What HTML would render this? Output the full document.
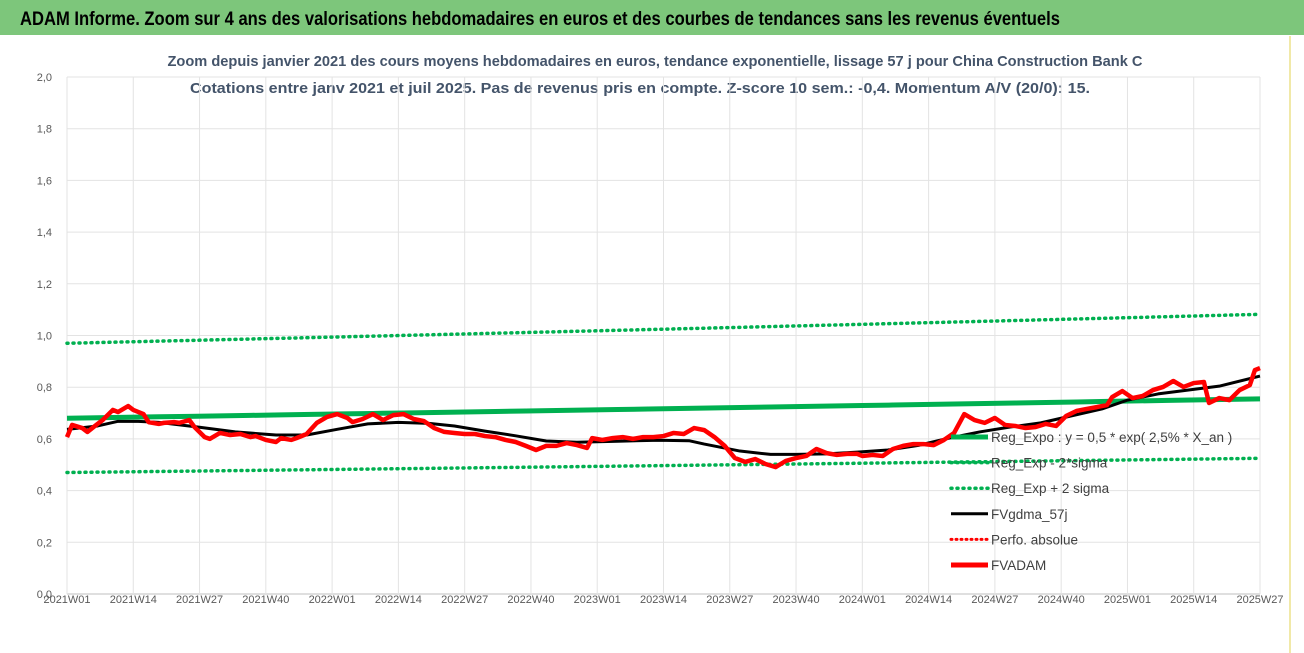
<!DOCTYPE html>
<html><head><meta charset="utf-8"><style>
body{margin:0;background:#fff;}
svg{display:block;font-family:"Liberation Sans",sans-serif;}
</style></head><body>
<svg width="1304" height="653" viewBox="0 0 1304 653">
<rect x="0" y="0" width="1304" height="653" fill="#fff"/>
<rect x="0" y="0" width="1304" height="35" fill="#7dc67b"/>
<text x="20" y="25" font-size="19" font-weight="bold" fill="#000" textLength="1040" lengthAdjust="spacingAndGlyphs">ADAM Informe. Zoom sur 4 ans des valorisations hebdomadaires en euros et des courbes de tendances sans les revenus éventuels</text>
<line x1="1290" y1="36" x2="1290" y2="653" stroke="#f1e9a8" stroke-width="2"/>
<text x="655" y="66" font-size="15" font-weight="bold" fill="#44546a" text-anchor="middle" textLength="975" lengthAdjust="spacingAndGlyphs">Zoom depuis janvier 2021 des cours moyens hebdomadaires en euros, tendance exponentielle, lissage 57 j pour China Construction Bank C</text>
<text x="640" y="93" font-size="15" font-weight="bold" fill="#44546a" text-anchor="middle" textLength="900" lengthAdjust="spacingAndGlyphs">Cotations entre janv 2021 et juil 2025. Pas de revenus pris en compte. Z-score 10 sem.: -0,4. Momentum A/V (20/0): 15.</text>
<g id="grid"></g>
<g id="series"></g>
<g id="legend"></g>
</svg>
<script>
const yTicks=[0,0.2,0.4,0.6,0.8,1.0,1.2,1.4,1.6,1.8,2.0];
const xTickLabels=["2021W01","2021W14","2021W27","2021W40","2022W01","2022W14","2022W27","2022W40","2023W01","2023W14","2023W27","2023W40","2024W01","2024W14","2024W27","2024W40","2025W01","2025W14","2025W27"];
const regStart=0.68, regEnd=0.755;
const lowStart=0.47, lowEnd=0.525;
const highStart=0.97, highEnd=1.082;
const redWeeks=[0,1,3,4,6,7,9,10,12,13,15,16,18,19,21,22,24,25,27,28,30,32,34,36,37,39,41,42,44,45,47,49,51,53,55,56,58,60,62,64,66,68,70,72,74,76,78,80,82,84,86,88,90,92,94,96,98,100,102,103,105,107,109,111,113,115,117,119,121,123,125,127,129,131,133,135,137,139,141,143,145,147,149,151,153,155,156,158,160,162,164,166,168,170,172,174,176,178,180,182,184,186,188,190,192,194,196,198,200,202,204,205,207,209,211,213,215,217,219,221,223,224,226,228,230,232,233,234];
const redValues=[.607,.654,.642,.627,.658,.673,.712,.704,.727,.712,.696,.665,.658,.662,.665,.662,.673,.646,.607,.600,.623,.615,.619,.607,.611,.596,.588,.603,.596,.603,.619,.662,.685,.696,.681,.665,.677,.696,.673,.692,.696,.677,.669,.642,.627,.623,.619,.619,.611,.607,.596,.588,.573,.557,.573,.573,.584,.576,.565,.603,.596,.603,.607,.600,.607,.607,.611,.623,.619,.642,.634,.607,.573,.526,.511,.522,.503,.491,.515,.526,.534,.561,.545,.538,.542,.542,.534,.538,.534,.561,.573,.580,.580,.576,.596,.623,.696,.673,.662,.681,.654,.650,.642,.646,.658,.650,.689,.708,.716,.723,.731,.762,.785,.758,.766,.789,.801,.824,.801,.816,.820,.739,.758,.750,.789,.808,.866,.874];
const blackWeeks=[0,6,10,14,18,26,33,41,47,53,59,65,71,76,82,88,94,100,108,116,122,125,132,138,143,149,155,161,167,173,179,185,191,197,203,208,214,220,226,234];
const blackValues=[.637,.65,.668,.668,.664,.645,.627,.615,.615,.637,.658,.664,.660,.650,.630,.612,.592,.587,.591,.595,.593,.580,.553,.540,.540,.542,.549,.557,.575,.603,.627,.646,.662,.689,.716,.750,.774,.789,.804,.843];
const legendLabels=["Reg_Expo : y = 0,5 * exp( 2,5% *  X_an )","Reg_Exp - 2*sigma","Reg_Exp + 2 sigma","FVgdma_57j","Perfo. absolue","FVADAM"];

const X0=67,X1=1260,Y0=594,Y1=77,WMAX=234;
const xs=w=>X0+(X1-X0)*w/WMAX;
const ys=v=>Y0-(Y0-Y1)*v/2.0;
const NS="http://www.w3.org/2000/svg";
function mk(tag,attrs,parent){const e=document.createElementNS(NS,tag);for(const k in attrs)e.setAttribute(k,attrs[k]);parent.appendChild(e);return e;}
const grid=document.getElementById('grid'),ser=document.getElementById('series'),leg=document.getElementById('legend');
yTicks.forEach(t=>{
 const l=mk('line',{x1:X0,x2:X1,y1:ys(t),y2:ys(t),stroke:t===0?'#bfbfbf':'#e3e3e3','stroke-width':1},grid);
 
 
 const tx=mk('text',{x:52,y:ys(t)+4,'font-size':11,fill:'#595959','text-anchor':'end'},grid);
 tx.textContent=t.toFixed(1).replace('.',',');
 
 
});
xTickLabels.forEach((lab,i)=>{
 const w=i*13,x=xs(w);
 const l=mk('line',{x1:x,x2:x,y1:Y1,y2:Y0,stroke:'#e3e3e3','stroke-width':1},grid);
 
 
 const tx=mk('text',{x:x,y:Y0+9,'font-size':11,fill:'#595959','text-anchor':'middle'},grid);
 tx.textContent=lab;
 
 
});
function expLine(a,b){const pts=[];for(let w=0;w<=WMAX;w+=6){pts.push(xs(w)+','+ys(a*Math.pow(b/a,w/WMAX)));}pts.push(xs(WMAX)+','+ys(b));return pts.join(' ');}
let p=mk('polyline',{points:expLine(lowStart,lowEnd),fill:'none',stroke:'#00b050','stroke-width':3.5,'stroke-dasharray':'1 5','stroke-linecap':'round'},ser);


p=mk('polyline',{points:expLine(highStart,highEnd),fill:'none',stroke:'#00b050','stroke-width':3.5,'stroke-dasharray':'1 5','stroke-linecap':'round'},ser);


p=mk('polyline',{points:expLine(regStart,regEnd),fill:'none',stroke:'#00b050','stroke-width':5},ser);


p=mk('polyline',{points:blackWeeks.map((w,i)=>xs(w)+','+ys(blackValues[i])).join(' '),fill:'none',stroke:'#000','stroke-width':3,'stroke-linejoin':'round'},ser);


p=mk('polyline',{points:redWeeks.map((w,i)=>xs(w)+','+ys(redValues[i])).join(' '),fill:'none',stroke:'#ff0000','stroke-width':4.5,'stroke-linejoin':'round'},ser);


const styles=[{c:'#00b050',w:5,d:''},{c:'#00b050',w:3.5,d:'1 5'},{c:'#00b050',w:3.5,d:'1 5'},{c:'#000',w:3,d:''},{c:'#ff0000',w:3,d:'1 4'},{c:'#ff0000',w:5,d:''}];
legendLabels.forEach((lab,i)=>{
 const y=437+i*25.6;
 const g=mk('g',{},leg);
 
 
 const s=styles[i];
 const a={x1:951,x2:988,y1:y,y2:y,stroke:s.c,'stroke-width':s.w};
 if(s.d){a['stroke-dasharray']=s.d;a['stroke-linecap']='round';}
 mk('line',a,g);
 const t=mk('text',{x:991,y:y+5,'font-size':13.5,fill:'#404040'},g);
 t.textContent=lab;
});
</script>
</body></html>
